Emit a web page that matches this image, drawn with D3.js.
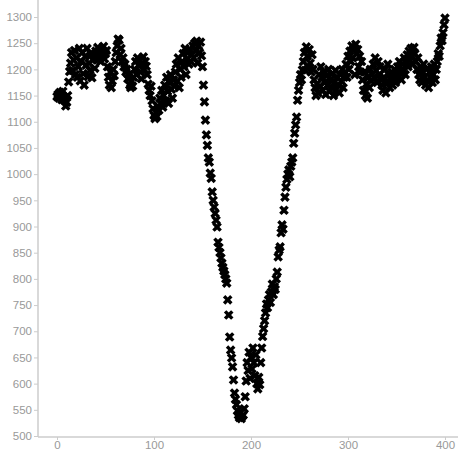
<!DOCTYPE html>
<html>
<head>
<meta charset="utf-8">
<script src="https://cdn.jsdelivr.net/npm/d3@7"></script>
<style>
  body { margin: 0; background: #fff; }
  .tick text { font-family: "Liberation Sans", Arial, sans-serif; font-size: 11.5px; fill: #999; }
  .tick line { stroke: #ccc; }
</style>
</head>
<body>
<div id="chart-area"></div>
<script>
// values, one per x step
var plateauLeft = [
    1148, 1152, 1145, 1156, 1150, 1142, 1158, 1147, 1140, 1130, 1137, 1150,
    1176, 1196, 1212, 1232, 1198, 1218, 1236, 1190,
    1222, 1185, 1205, 1240, 1178, 1215, 1232, 1192, 1170, 1225,
    1208, 1240, 1186, 1212, 1198, 1230, 1184, 1218, 1228, 1202,
    1235, 1218, 1242, 1224, 1232, 1215, 1238, 1226, 1244, 1220, 1230, 1236,
    1205, 1185, 1170, 1195, 1165, 1178, 1200, 1188,
    1215, 1232, 1245, 1258, 1256, 1228, 1240, 1215, 1222, 1205,
    1210, 1195, 1200, 1182, 1190, 1170, 1165, 1178, 1168, 1185,
    1200, 1215, 1190, 1222, 1208, 1218, 1195, 1182, 1210, 1224,
    1200, 1215, 1206, 1190, 1172, 1160, 1150, 1168,
    1140, 1125, 1112, 1106, 1118, 1110, 1130, 1122, 1145, 1135, 1160, 1128,
    1150, 1170, 1140, 1185, 1158, 1135, 1175, 1190, 1162, 1145, 1180, 1168, 1195,
    1210, 1178, 1222, 1165, 1200, 1185, 1215, 1230, 1205, 1240, 1190, 1220, 1232, 1210,
    1238, 1215, 1228, 1245, 1222, 1250, 1235, 1254, 1212, 1245, 1232, 1252, 1226
];
var descent = [
    1205, 1170, 1138, 1103, 1075, 1055, 1031, 1023, 1002, 992,
    966, 950, 937, 925, 912, 899, 870, 860, 850, 840,
    830, 822, 815, 808, 800, 792, 760, 731, 689, 664,
    649, 632, 607, 582, 570, 560, 548, 540, 535, 545,
    533, 538
];
var ascent = [
    540, 552, 575, 605, 640, 625, 660, 610, 650, 628,
    668, 640, 615, 655, 600, 590, 612, 598, 640, 668,
    690, 705, 720, 735, 752, 745, 760, 770, 755, 775,
    790, 770, 785, 780, 800, 813, 842, 855, 861, 888,
    903, 895, 931, 956, 975, 990, 1000, 1008, 995, 1015,
    1023, 1031, 1059, 1078, 1094, 1109, 1141, 1160, 1175, 1190,
    1180, 1199
];
var plateauRight = [
    1215, 1232, 1198, 1243, 1225, 1205, 1238, 1212, 1195, 1228,
    1200, 1180, 1165, 1150, 1172, 1155, 1190, 1168, 1205,
    1185, 1160, 1195, 1175, 1152, 1188, 1170, 1200, 1158, 1180,
    1165, 1192, 1150, 1175, 1198, 1162, 1185, 1170, 1155, 1190,
    1178, 1200, 1165, 1185, 1195,
    1210, 1185, 1225, 1200, 1235, 1215, 1245, 1222, 1240, 1190,
    1248, 1230, 1238, 1205, 1225, 1195, 1215,
    1180, 1160, 1195, 1150, 1172, 1145, 1185, 1165, 1200, 1178, 1190,
    1210, 1185, 1222, 1198, 1175, 1215, 1190, 1205, 1180, 1170,
    1160, 1185, 1200, 1155, 1175, 1210, 1190, 1165, 1180, 1195,
    1170, 1185, 1200, 1175, 1190,
    1205, 1185, 1215, 1195, 1180, 1210, 1200, 1222, 1190, 1215,
    1228, 1205, 1235, 1218, 1240, 1225, 1210, 1242, 1230,
    1215, 1200, 1222, 1190, 1180, 1205, 1175, 1195, 1210, 1185,
    1170, 1200, 1180, 1165, 1195, 1185, 1205, 1175, 1190, 1210,
    1180, 1200,
    1215, 1230, 1225, 1245, 1260, 1255, 1270, 1285, 1298
];
var xTicks = [0, 100, 200, 300, 400];
var yTicks = [500, 550, 600, 650, 700, 750, 800, 850, 900, 950, 1000,
              1050, 1100, 1150, 1200, 1250, 1300];

var values = plateauLeft.concat(descent, ascent, plateauRight);
var data = values.map((v, i) => ({ x: i, y: v }));

var width = 458, height = 454;
var axisX = 38, axisY = 437;

var svg = d3.select("#chart-area").append("svg")
    .attr("width", width)
    .attr("height", height);

var x = d3.scaleLinear().domain([0, 400]).range([57, 445]);
var y = d3.scaleLinear().domain([500, 1300]).range([436, 17]);

// axis lines
svg.append("line")
    .attr("x1", axisX).attr("x2", axisX)
    .attr("y1", 0).attr("y2", axisY)
    .attr("stroke", "#ccc").attr("stroke-width", 1.5);
svg.append("line")
    .attr("x1", axisX).attr("x2", width)
    .attr("y1", axisY).attr("y2", axisY)
    .attr("stroke", "#ccc").attr("stroke-width", 1.5);

var yAxis = svg.append("g")
    .attr("transform", `translate(${axisX},0)`)
    .call(d3.axisLeft(y).tickValues(yTicks).tickFormat(d3.format("d"))
        .tickSize(4).tickPadding(2));
yAxis.select(".domain").remove();

var xAxis = svg.append("g")
    .attr("transform", `translate(0,${axisY})`)
    .call(d3.axisBottom(x).tickValues(xTicks).tickFormat(d3.format("d"))
        .tickSize(3).tickPadding(1));
xAxis.select(".domain").remove();

var cross = d3.symbol().type(d3.symbolCross).size(58);

svg.append("g").selectAll("path")
    .data(data)
    .enter()
    .append("path")
        .attr("d", cross)
        .attr("transform", d => `translate(${x(d.x)},${y(d.y)}) rotate(45)`)
        .attr("fill", "#000");
</script>
</body>
</html>
